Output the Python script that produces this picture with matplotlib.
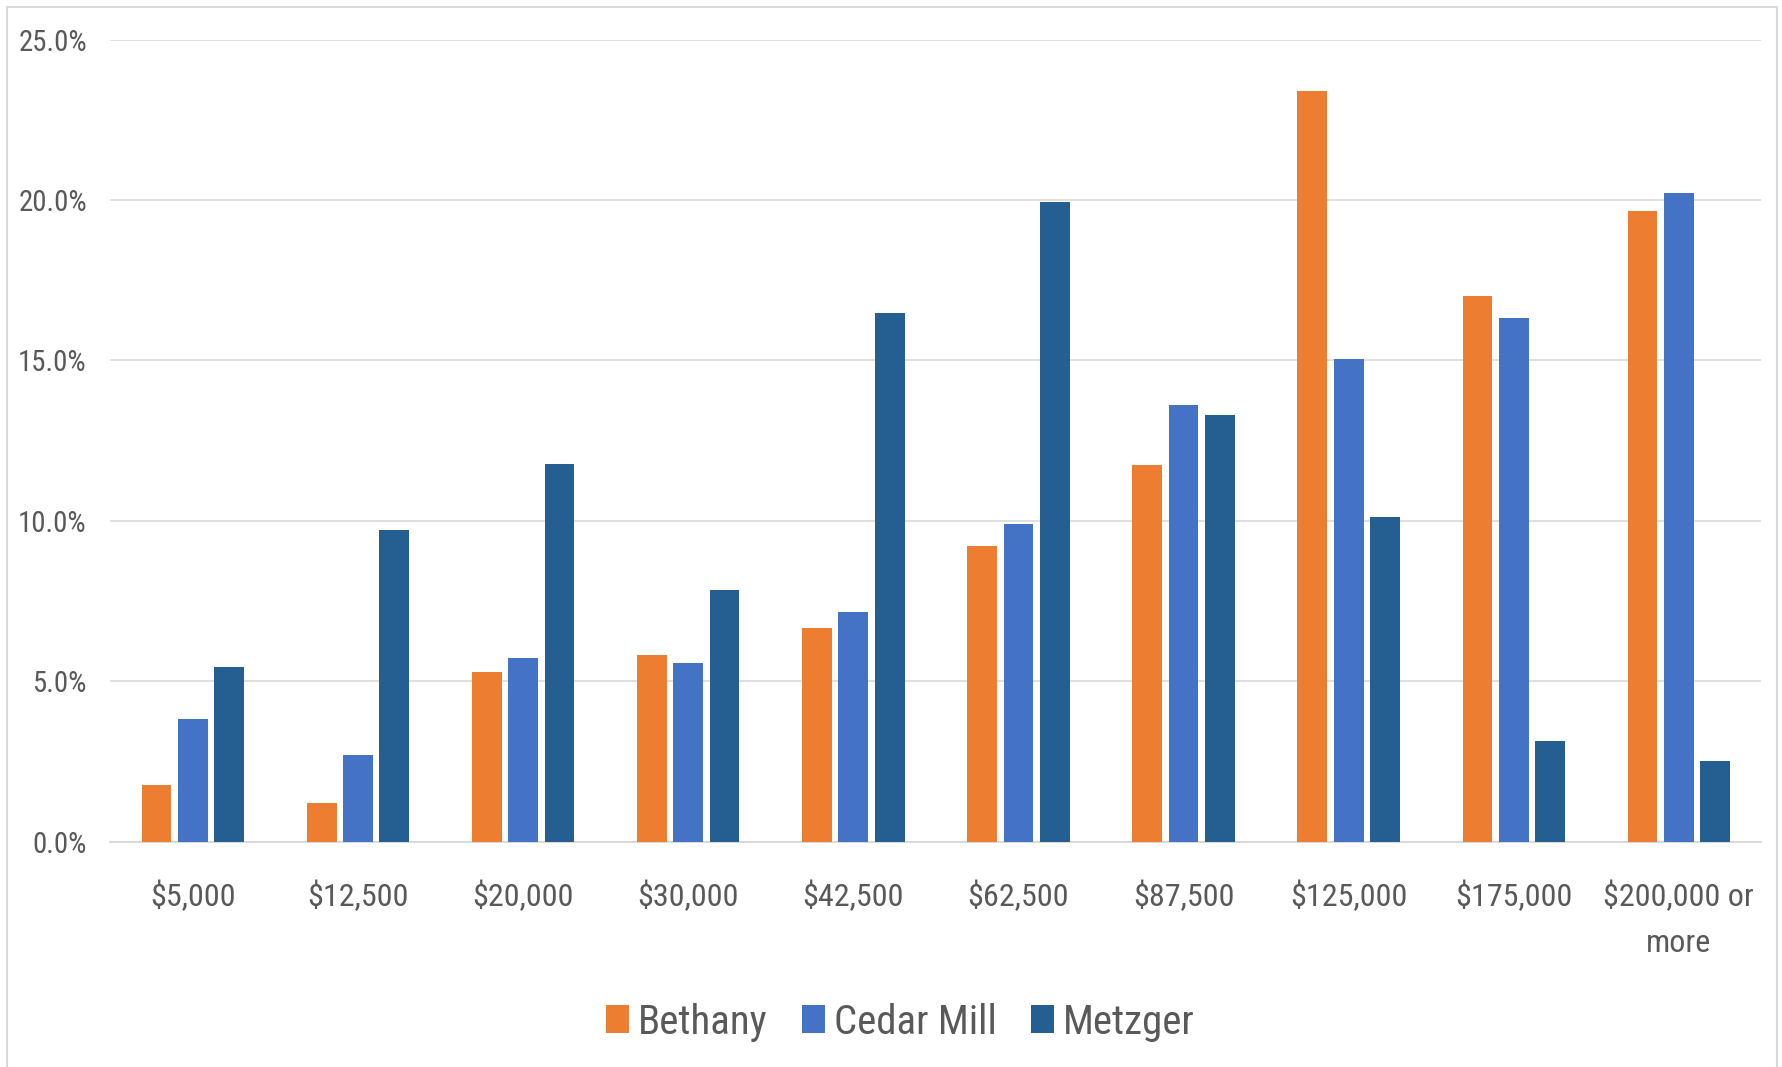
import numpy as np
import matplotlib
matplotlib.use('Agg')
import matplotlib.pyplot as plt
from matplotlib import font_manager as fm
from matplotlib.textpath import TextPath
from matplotlib.patches import Rectangle

# income brackets and share of households (%) per area
categories = ['$5,000', '$12,500', '$20,000', '$30,000', '$42,500', '$62,500',
              '$87,500', '$125,000', '$175,000', '$200,000 or\nmore']
bethany = [1.77, 1.21, 5.28, 5.82, 6.67, 9.22, 11.74, 23.40, 17.02, 19.65]
cedar_mill = [3.83, 2.70, 5.71, 5.57, 7.16, 9.89, 13.62, 15.04, 16.31, 20.21]
metzger = [5.43, 9.72, 11.77, 7.84, 16.49, 19.93, 13.30, 10.11, 3.12, 2.52]
series_names = ['Bethany', 'Cedar Mill', 'Metzger']
yticks = [0, 5, 10, 15, 20, 25]

colors = ['#ED7D31', '#4472C4', '#255E91']
txt_color = '#595959'
grid_color = '#D9D9D9'


def pick_narrow_font():
    # look for a condensed / narrow sans face, best first
    fonts = fm.fontManager.ttflist
    def ok(f):
        return f.style == 'normal' and f.weight in (400, 'normal', 'regular')
    prefs = [
        lambda f: f.name == 'Liberation Sans Narrow',
        lambda f: f.name.startswith('Noto Sans') and 'Condensed' in f.fname and 'Semi' not in f.fname and 'Extra' not in f.fname and f.name in ('Noto Sans', 'Noto Sans Condensed'),
        lambda f: f.name.startswith('Open Sans') and 'Condensed' in f.fname,
        lambda f: f.name.startswith('Roboto') and 'Condensed' in f.fname,
        lambda f: f.name.startswith('Noto Sans') and 'SemiCondensed' in f.fname and f.name in ('Noto Sans', 'Noto Sans SemiCondensed'),
        lambda f: f.name.startswith('DejaVu Sans') and 'Condensed' in f.fname,
    ]
    for p in prefs:
        hits = [f for f in fonts if p(f) and ok(f)]
        if hits:
            return fm.FontProperties(fname=hits[0].fname)
    return fm.FontProperties(family='Liberation Sans')


base_fp = pick_narrow_font()


def fit_size(sample, width_px, cap_px):
    # point size that keeps a sample string within the wanted width and cap height
    w = TextPath((0, 0), sample, size=100, prop=base_fp).get_extents().width
    h = TextPath((0, 0), 'H', size=100, prop=base_fp).get_extents().height
    s_w = width_px * 72 / 100 * 100 / w
    s_h = cap_px * 72 / 100 * 100 / h
    return min(s_w, s_h)


def fp_at(size):
    p = base_fp.copy()
    p.set_size(size)
    return p


ytick_fp = fp_at(fit_size('25.0%', 66, 24))
xtick_fp = fp_at(fit_size('$12,500', 98, 26))
legend_fp = fp_at(fit_size('Bethany', 126, 31))

fig = plt.figure(figsize=(17.83, 10.67), dpi=100)
ax = fig.add_axes([0.0619, 0.2113, 0.926, 0.7514])

x = np.arange(len(categories))
w = 0.18
step = 0.22
for i, (vals, name) in enumerate(zip([bethany, cedar_mill, metzger], series_names)):
    ax.bar(x + (i - 1) * step, vals, width=w, color=colors[i], label=name,
           linewidth=0, zorder=3)

ax.set_xlim(-0.5, len(categories) - 0.5)
ax.set_ylim(0, 25)
ax.set_yticks(yticks)
ax.set_yticklabels([f'{v:.1f}%' for v in yticks], fontproperties=ytick_fp, color=txt_color)
ax.set_xticks(x)
ax.set_xticklabels(categories, fontproperties=xtick_fp, color=txt_color, linespacing=1.75)

ax.grid(axis='y', color=grid_color, linewidth=1.2, zorder=0)
for s in ['top', 'right', 'left']:
    ax.spines[s].set_visible(False)
ax.spines['bottom'].set_color(grid_color)
ax.spines['bottom'].set_linewidth(1.4)
ax.tick_params(axis='both', length=0)
ax.tick_params(axis='y', pad=17)
ax.tick_params(axis='x', pad=28)

# light frame round the chart (open at the bottom)
fig.patches.append(Rectangle((7 / 1783, -0.05), 1770 / 1783, 1.05 - 7 / 1067,
                             transform=fig.transFigure, fill=False,
                             edgecolor=grid_color, linewidth=1.5))

leg = fig.legend(loc='center', bbox_to_anchor=(0.505, 0.042), ncol=3,
                 frameon=False, prop=legend_fp, handlelength=0.55, handleheight=0.68,
                 handletextpad=0.22, columnspacing=0.85, labelcolor=txt_color)

fig.savefig('out.png', dpi=100, facecolor='white')
